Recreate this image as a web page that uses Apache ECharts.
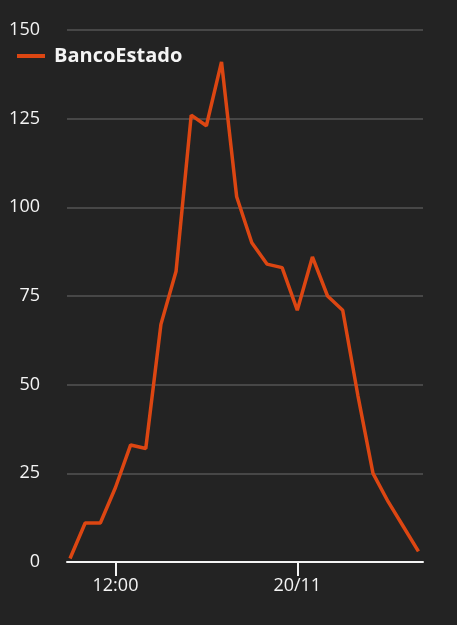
<!DOCTYPE html>
<html>
<head>
<meta charset="utf-8">
<script src="https://cdn.jsdelivr.net/npm/echarts@6/dist/echarts.min.js"></script>
<style>
  html, body { margin: 0; padding: 0; background: #232323; }
  #chart { width: 457px; height: 625px; }
</style>
</head>
<body>
<div id="chart"></div>
<script>
// hours counted from 00:00 on 19/11 (24 = 20/11 00:00)
const hours = [9, 10, 11, 12, 13, 14, 15, 16, 17, 18, 19, 20, 21, 22, 23, 24,
               25, 26, 27, 28, 29, 30, 31, 32];
const bancoEstado = [1, 11, 11, 21, 33, 32, 67, 82, 126, 123, 141, 103, 90, 84, 83, 71,
                     86, 75, 71, 47, 25, 17, 10, 3];
const xTickValues = [12, 24];
const xTickLabels = { 12: '12:00', 24: '20/11' };

const chart = echarts.init(document.getElementById('chart'));
const option = {
  backgroundColor: '#232323',
  animation: false,
  textStyle: { fontFamily: 'Open Sans' },
  grid: { left: 67, right: 34, top: 30, bottom: 63 },
  legend: {
    left: 12,
    top: 41,
    icon: 'rect',
    itemWidth: 28,
    itemHeight: 4,
    itemGap: 10,
    textStyle: {
      color: '#f4f4f4', fontSize: 20, fontWeight: 'bold', fontFamily: 'Open Sans',
      padding: [0, 0, 0, 4]
    },
    data: ['BancoEstado']
  },
  xAxis: {
    type: 'value',
    min: 8.8,
    max: 32.3,
    splitLine: { show: false },
    axisLine: { lineStyle: { color: '#f4f4f4', width: 2 } },
    axisTick: { customValues: xTickValues, length: 14, lineStyle: { color: '#f4f4f4', width: 2 } },
    axisLabel: {
      customValues: xTickValues,
      formatter: v => xTickLabels[v] || '',
      color: '#f4f4f4',
      fontSize: 18,
      margin: 15
    }
  },
  yAxis: {
    type: 'value',
    min: 0,
    max: 150,
    interval: 25,
    axisLine: { show: false },
    axisTick: { show: false },
    splitLine: { lineStyle: { color: '#555555', width: 1.5 } },
    axisLabel: { color: '#f4f4f4', fontSize: 18, margin: 27 }
  },
  series: [{
    name: 'BancoEstado',
    type: 'line',
    showSymbol: false,
    color: '#dc4612',
    lineStyle: { width: 3.5 },
    data: hours.map((h, i) => [h, bancoEstado[i]])
  }]
};
chart.setOption(option);
</script>
</body>
</html>
